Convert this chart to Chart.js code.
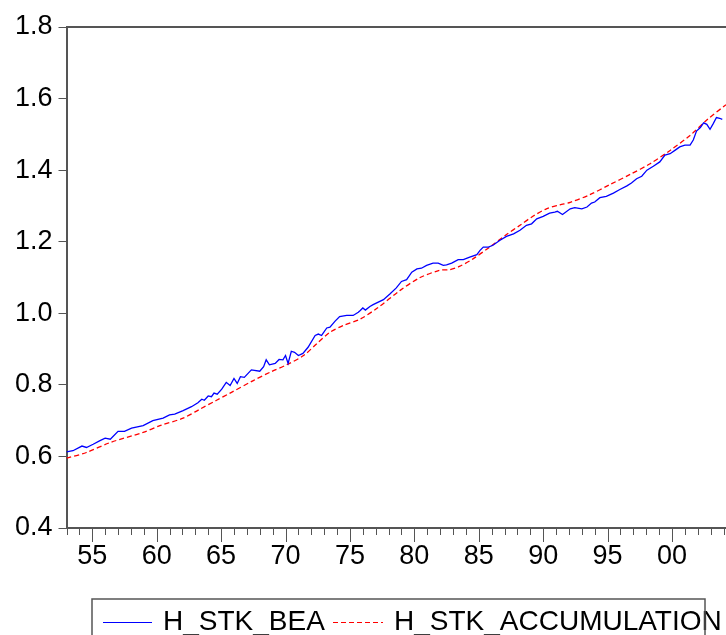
<!DOCTYPE html>
<html>
<head>
<meta charset="utf-8">
<script src="https://cdn.jsdelivr.net/npm/chart.js@4"></script>
<style>
  html, body { margin: 0; padding: 0; background: #fff; overflow: hidden; }
  #wrap { width: 726px; height: 635px; }
</style>
</head>
<body>
<div id="wrap"><canvas id="chart" width="726" height="635"></canvas></div>
<script>
// Quarterly-ish readings, x = year (fractional), y = stock ratio.
const BEA_YEARS = [
  1953.0, 1953.5, 1954.2, 1954.55, 1955.07, 1955.6, 1956.0, 1956.4, 1957.0, 1957.5,
  1958.05, 1958.95, 1959.7, 1960.5, 1961.0, 1961.4, 1962.05, 1962.7, 1963.2, 1963.5,
  1963.7, 1964.0, 1964.25, 1964.45, 1964.7, 1965.05, 1965.4, 1965.7, 1966.0, 1966.25,
  1966.5, 1966.8, 1967.35, 1968.0, 1968.3, 1968.5, 1968.75, 1969.2, 1969.5, 1969.8,
  1970.0, 1970.2, 1970.45, 1970.7, 1971.0, 1971.35, 1971.75, 1972.3, 1972.55, 1972.8,
  1973.2, 1973.45, 1973.85, 1974.2, 1974.75, 1975.25, 1975.65, 1975.8, 1976.0, 1976.2,
  1976.55, 1976.8, 1977.6, 1978.1, 1978.6, 1979.0, 1979.4, 1979.8, 1980.2, 1980.55,
  1980.95, 1981.45, 1981.85, 1982.25, 1982.5, 1982.9, 1983.4, 1983.8, 1984.3, 1984.85,
  1985.1, 1985.35, 1985.75, 1986.1, 1986.65, 1987.15, 1987.7, 1988.2, 1988.7, 1989.1,
  1989.5, 1990.0, 1990.5, 1990.9, 1991.1, 1991.5, 1992.1, 1992.45, 1993.0, 1993.4,
  1993.75, 1994.0, 1994.4, 1994.9, 1995.45, 1995.95, 1996.5, 1996.85, 1997.25, 1997.65,
  1998.05, 1998.55, 1999.05, 1999.45, 1999.85, 2000.25, 2000.6, 2001.0, 2001.4, 2001.65,
  2001.9, 2002.2, 2002.45, 2002.7, 2002.95, 2003.2, 2003.45, 2003.7, 2003.9
];
const BEA_VALUES = [
  0.613, 0.616, 0.629, 0.625, 0.634, 0.644, 0.651, 0.648, 0.670, 0.670,
  0.679, 0.686, 0.700, 0.707, 0.716, 0.718, 0.728, 0.739, 0.750, 0.760,
  0.757, 0.769, 0.767, 0.777, 0.774, 0.788, 0.807, 0.798, 0.818, 0.804,
  0.823, 0.821, 0.842, 0.838, 0.851, 0.870, 0.856, 0.860, 0.871, 0.870,
  0.882, 0.860, 0.894, 0.891, 0.882, 0.888, 0.905, 0.938, 0.942, 0.938,
  0.959, 0.961, 0.978, 0.991, 0.994, 0.994, 1.003, 1.008, 1.015, 1.009,
  1.019, 1.024, 1.038, 1.054, 1.071, 1.089, 1.094, 1.115, 1.124, 1.126,
  1.134, 1.140, 1.140, 1.134, 1.135, 1.140, 1.150, 1.150, 1.157, 1.164,
  1.176, 1.185, 1.185, 1.190, 1.204, 1.215, 1.222, 1.232, 1.246, 1.250,
  1.264, 1.271, 1.280, 1.283, 1.285, 1.276, 1.292, 1.295, 1.292, 1.297,
  1.308, 1.311, 1.323, 1.327, 1.336, 1.346, 1.356, 1.364, 1.376, 1.383,
  1.400, 1.411, 1.423, 1.442, 1.446, 1.456, 1.465, 1.470, 1.470, 1.484,
  1.509, 1.519, 1.532, 1.528, 1.514, 1.530, 1.547, 1.545, 1.542
];

const ACC_YEARS = [
  1953.0, 1954.55, 1956.4, 1958.95, 1960.25, 1962.05, 1963.35, 1964.65, 1965.7, 1967.5,
  1968.9, 1970.2, 1971.4, 1972.4, 1973.45, 1974.5, 1975.8, 1977.1, 1978.9, 1980.4,
  1981.95, 1982.75, 1983.5, 1984.55, 1985.85, 1987.15, 1988.2, 1989.2, 1990.25, 1991.3,
  1992.1, 1993.6, 1995.2, 1996.75, 1998.3, 1999.85, 2001.4, 2002.7, 2004.19
];
const ACC_VALUES = [
  0.595, 0.611, 0.639, 0.667, 0.686, 0.707, 0.732, 0.757, 0.777, 0.812,
  0.837, 0.858, 0.882, 0.914, 0.947, 0.966, 0.984, 1.014, 1.064, 1.099,
  1.120, 1.122, 1.131, 1.152, 1.185, 1.220, 1.246, 1.271, 1.292, 1.303,
  1.310, 1.331, 1.360, 1.388, 1.418, 1.455, 1.497, 1.540, 1.583
];

const SERIES_LABELS = ["H_STK_BEA", "H_STK_ACCUMULATION"];
const Y_TICKS = [0.4, 0.6, 0.8, 1.0, 1.2, 1.4, 1.6, 1.8];
const X_LABEL_YEARS = [1955, 1960, 1965, 1970, 1975, 1980, 1985, 1990, 1995, 2000];

const X_MIN = 1953, X_MAX = 2004.19;
const AXIS_GREY = "#555555";
const FONT = "'Liberation Sans', Arial, sans-serif";

const toPoints = (xs, ys) => xs.map((x, i) => ({ x, y: ys[i] }));

// EViews style: a tick every year, a longer one every 5 years, plus the top frame line.
const frameAndTicks = {
  id: "frameAndTicks",
  afterDraw(chart) {
    const { ctx, chartArea, scales } = chart;
    const xs = scales.x;
    ctx.save();
    ctx.strokeStyle = AXIS_GREY;
    ctx.lineWidth = 1;
    ctx.beginPath();
    for (let yr = Math.ceil(X_MIN); yr <= X_MAX; yr++) {
      const px = Math.round(xs.getPixelForValue(yr)) + 0.5;
      const len = yr % 5 === 0 ? 14 : 7;
      ctx.moveTo(px, chartArea.bottom);
      ctx.lineTo(px, chartArea.bottom + len);
    }
    ctx.stroke();
    ctx.lineWidth = 2;
    ctx.beginPath();
    ctx.moveTo(chartArea.left, chartArea.top);
    ctx.lineTo(chartArea.right, chartArea.top);
    ctx.stroke();
    ctx.restore();
  },
};

// Boxed legend under the plot, like the original's.
const boxLegend = {
  id: "boxLegend",
  afterDraw(chart) {
    const { ctx } = chart;
    const top = 599, left = 92, right = 705;
    const midY = 622;
    ctx.save();
    ctx.font = `28px ${FONT}`;
    ctx.textBaseline = "middle";
    ctx.fillStyle = "#000";
    const items = [
      { ds: chart.data.datasets[0], x0: 103, x1: 152, tx: 163 },
      { ds: chart.data.datasets[1], x0: 333, x1: 383, tx: 394 },
    ];
    for (const it of items) {
      ctx.strokeStyle = it.ds.borderColor;
      ctx.lineWidth = 1;
      ctx.setLineDash(it.ds.borderDash || []);
      ctx.beginPath();
      ctx.moveTo(it.x0, midY + 0.5);
      ctx.lineTo(it.x1, midY + 0.5);
      ctx.stroke();
      ctx.setLineDash([]);
      ctx.fillText(it.ds.label, it.tx, midY);
    }
    ctx.strokeStyle = AXIS_GREY;
    ctx.lineWidth = 1.5;
    ctx.beginPath();
    ctx.moveTo(left, 650);
    ctx.lineTo(left, top);
    ctx.lineTo(right, top);
    ctx.lineTo(right, 650);
    ctx.stroke();
    ctx.restore();
  },
};

new Chart(document.getElementById("chart"), {
  type: "line",
  data: {
    datasets: [
      {
        label: SERIES_LABELS[0],
        data: toPoints(BEA_YEARS, BEA_VALUES),
        borderColor: "#0000ff",
        borderWidth: 1.3,
        pointRadius: 0,
        tension: 0,
      },
      {
        label: SERIES_LABELS[1],
        data: toPoints(ACC_YEARS, ACC_VALUES),
        borderColor: "#ff0000",
        borderWidth: 1.3,
        borderDash: [5, 3],
        pointRadius: 0,
        tension: 0.3,
      },
    ],
  },
  options: {
    responsive: false,
    animation: false,
    parsing: false,
    layout: { padding: { top: 27, right: 0, bottom: 0, left: 0 } },
    plugins: { legend: { display: false }, tooltip: { enabled: false } },
    scales: {
      x: {
        type: "linear",
        min: X_MIN,
        max: X_MAX,
        afterBuildTicks: (s) => { s.ticks = X_LABEL_YEARS.map((v) => ({ value: v })); },
        afterFit: (s) => { s.height = 107; },
        grid: { display: false, drawTicks: false },
        border: { display: true, color: AXIS_GREY, width: 2 },
        ticks: {
          padding: 12,
          maxRotation: 0,
          autoSkip: false,
          color: "#000",
          font: { family: FONT, size: 27 },
          callback: (v) => String(v % 100).padStart(2, "0"),
        },
      },
      y: {
        type: "linear",
        min: 0.4,
        max: 1.8,
        afterBuildTicks: (s) => { s.ticks = Y_TICKS.map((v) => ({ value: v })); },
        afterFit: (s) => { s.width = 66.5; },
        grid: { drawOnChartArea: false, drawTicks: true, tickLength: 8, color: AXIS_GREY, lineWidth: 1 },
        border: { display: true, color: AXIS_GREY, width: 2 },
        ticks: {
          padding: 6,
          color: "#000",
          font: { family: FONT, size: 27 },
          callback: (v) => v.toFixed(1),
        },
      },
    },
  },
  plugins: [frameAndTicks, boxLegend],
});
</script>
</body>
</html>
